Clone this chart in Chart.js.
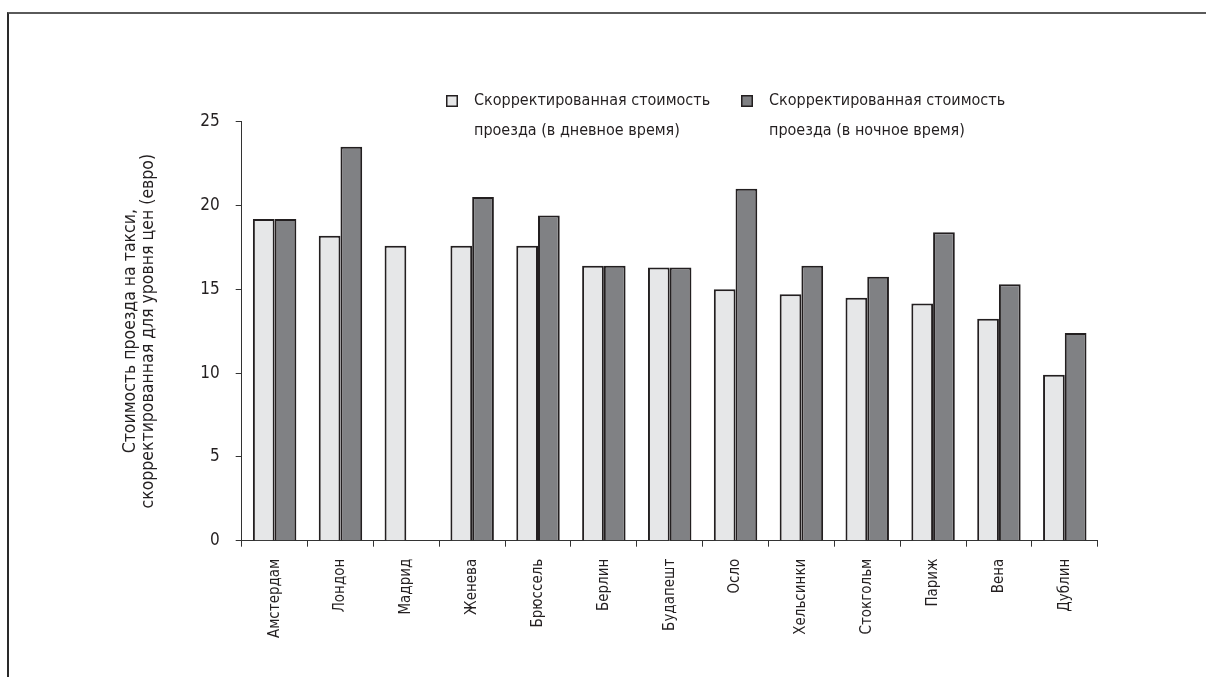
<!DOCTYPE html>
<html>
<head>
<meta charset="utf-8">
<script src="https://cdn.jsdelivr.net/npm/chart.js@4"></script>
<style>
  html, body { margin: 0; padding: 0; background: #fff; overflow: hidden; }
  #wrap { position: relative; width: 1206px; height: 677px; }
  #frame {
    position: absolute; left: 7px; top: 12px; width: 1300px; height: 800px;
    border-top: 2px solid #5a5a5a; border-left: 2px solid #2a2a2a;
  }
  #taxi { position: absolute; left: 0; top: 0; }
</style>
</head>
<body>
<div id="wrap">
  <div id="frame"></div>
  <canvas id="taxi" width="1206" height="677"></canvas>
</div>
<script>
var cities = ['Амстердам', 'Лондон', 'Мадрид', 'Женева', 'Брюссель', 'Берлин', 'Будапешт',
              'Осло', 'Хельсинки', 'Стокгольм', 'Париж', 'Вена', 'Дублин'];
var dayFares   = [19.2, 18.2, 17.6, 17.6, 17.6, 16.4, 16.3, 15.0, 14.7, 14.5, 14.15, 13.25, 9.9];
var nightFares = [19.2, 23.5, null, 20.5, 19.4, 16.4, 16.3, 21.0, 16.4, 15.75, 18.4, 15.3, 12.4];
var yTicks = [0, 5, 10, 15, 20, 25];

var ink = '#231f20';
var font = '"Liberation Sans Narrow", "Arial Narrow", "DejaVu Sans Condensed", sans-serif';
Chart.defaults.font.family = font;
Chart.defaults.color = ink;

// legend drawn by hand: two-line labels next to small squares
var twoLineLegend = {
  id: 'twoLineLegend',
  afterDraw: function (chart) {
    var c = chart.ctx;
    var spots = [{x: 446, y: 95}, {x: 741, y: 95}];
    c.save();
    c.font = '16px ' + font;
    c.textBaseline = 'middle';
    c.textAlign = 'left';
    chart.data.datasets.forEach(function (ds, i) {
      var p = spots[i];
      c.fillStyle = ds.backgroundColor;
      c.fillRect(p.x, p.y, 12, 12);
      c.strokeStyle = ds.borderColor;
      c.lineWidth = 1.5;
      c.strokeRect(p.x + 0.75, p.y + 0.75, 10.5, 10.5);
      c.fillStyle = ink;
      ds.label.forEach(function (line, k) {
        c.fillText(line, p.x + 28, p.y + 6 + k * 30);
      });
    });
    c.restore();
  }
};

var ctx = document.getElementById('taxi').getContext('2d');
var taxiChart = new Chart(ctx, {
  type: 'bar',
  data: {
    labels: cities,
    datasets: [
      {
        label: ['Скорректированная стоимость', 'проезда (в дневное время)'],
        data: dayFares,
        backgroundColor: '#e6e7e8',
        borderColor: ink,
        borderWidth: 2
      },
      {
        label: ['Скорректированная стоимость', 'проезда (в ночное время)'],
        data: nightFares,
        backgroundColor: '#808184',
        borderColor: ink,
        borderWidth: 2
      }
    ]
  },
  options: {
    responsive: false,
    animation: false,
    layout: { padding: { top: 121.7, right: 108.3, bottom: 0, left: 0 } },
    datasets: { bar: { categoryPercentage: 0.66, barPercentage: 1.0, skipNull: false } },
    plugins: {
      legend: { display: false },
      tooltip: { enabled: false }
    },
    scales: {
      x: {
        grid: { drawOnChartArea: false, color: '#333', tickLength: 6, offset: true },
        border: { color: '#333', width: 1 },
        ticks: {
          minRotation: 90, maxRotation: 90, autoSkip: false, padding: 12,
          font: { size: 15 }, color: ink
        },
        afterFit: function (s) { s.height = 136.3; }
      },
      y: {
        min: 0, max: 25,
        afterBuildTicks: function (s) {
          s.ticks = yTicks.map(function (v) { return { value: v }; });
        },
        grid: { drawOnChartArea: false, color: '#333', tickLength: 6 },
        border: { color: '#333', width: 1 },
        ticks: { padding: 16, font: { size: 17 }, color: ink },
        title: {
          display: true,
          text: ['Стоимость проезда на такси,', 'скорректированная для уровня цен (евро)'],
          font: { size: 17.5, lineHeight: '18px' },
          color: ink,
          padding: { top: 121, bottom: 0 }
        },
        afterFit: function (s) { s.width = 241.7; }
      }
    }
  },
  plugins: [twoLineLegend]
});
</script>
</body>
</html>
